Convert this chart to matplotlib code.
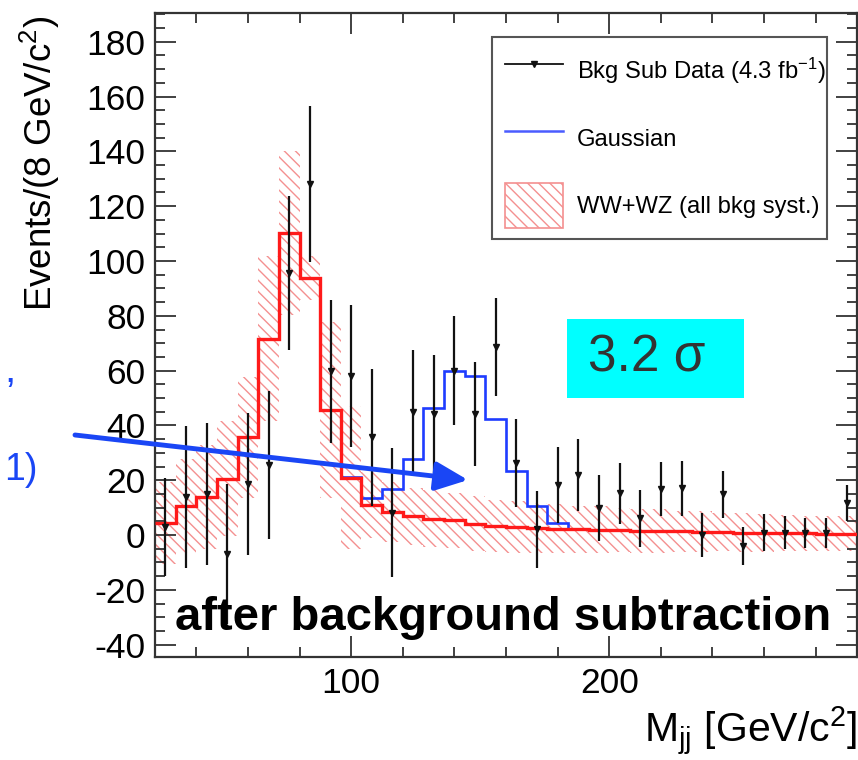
import numpy as np
import matplotlib
matplotlib.use("Agg")
import matplotlib.pyplot as plt
from matplotlib.lines import Line2D
from matplotlib.patches import Patch, Rectangle
from matplotlib.ticker import MultipleLocator

plt.rcParams['font.family'] = ['Liberation Sans', 'DejaVu Sans']
plt.rcParams['mathtext.fontset'] = 'custom'
plt.rcParams['mathtext.rm'] = 'Liberation Sans'
plt.rcParams['mathtext.it'] = 'Liberation Sans:italic'
plt.rcParams['mathtext.bf'] = 'Liberation Sans:bold'
plt.rcParams['axes.unicode_minus'] = False
plt.rcParams['hatch.linewidth'] = 1.0

# binning: 8 GeV/c^2 bins from 24 to 296
bin_lo = 24
bin_w = 8
n_bins = 34

# WW+WZ background (red histogram) per bin
bkg = [4.5, 10.6, 14.0, 20.6, 35.7, 71.7, 110.3, 93.9, 45.7, 21.0,
       11.0, 8.3, 6.8, 6.0, 5.4, 4.2, 3.2, 2.8, 2.6, 2.3,
       2.1, 2.0, 1.8, 1.6, 1.4, 1.3, 1.2, 1.0, 0.9, 0.8,
       0.7, 0.6, 0.5, 0.5]
# background systematic (half width of hatched band)
bkg_err = [15, 17, 19, 21, 22, 30, 30, 8, 32, 26,
           12, 11, 10.5, 10.5, 10, 10, 9.5, 9.5, 9, 9,
           8.5, 8.5, 8, 8, 8, 7.5, 7.5, 7, 7, 7,
           6.5, 6.5, 6.5, 6.5]

# Gaussian component, bins 10..21 (96-192 GeV/c^2)
gauss_first_bin = 9
gauss = [0.3, 2.4, 8.4, 21.0, 40.3, 54.6, 54.0, 39.1, 20.7, 8.1, 2.0, 0.2]

# background-subtracted data
data = [3.0, 13.8, 15.0, -7.0, 18.6, 25.5, 95.7, 128.0, 59.7, 58.0,
        35.7, 8.2, 45.0, 44.2, 60.0, 44.2, 68.6, 26.2, 2.1, 18.3,
        21.9, 10.0, 15.2, 6.1, 16.8, 17.0, 0.0, 14.9, -3.9, 0.9,
        0.9, 0.6, 0.9, 11.6]
data_err = [18, 26, 26, 25.5, 26, 27, 28, 28.5, 26, 26,
            25, 23.5, 22.5, 21.5, 20, 19, 18, 16, 14, 14,
            13, 12, 11, 10.5, 10, 10, 8, 8.5, 7, 6.6,
            6, 5.5, 5.5, 6.5]

edges = bin_lo + bin_w * np.arange(n_bins + 1)
centers = edges[:-1] + bin_w / 2
bkg = np.array(bkg)
bkg_err = np.array(bkg_err)
g_sl = slice(gauss_first_bin, gauss_first_bin + len(gauss))
sig_tot = bkg[g_sl] + np.array(gauss)

red = '#ff1a1a'
blue = '#1e3cff'
hatch_c = '#f49090'
arrow_c = '#1a46f5'

W, H = 858, 760
fig = plt.figure(figsize=(W / 100, H / 100), dpi=100)
ax = fig.add_axes([155 / W, 103 / H, 702 / W, 644 / H])

ax.bar(edges[:-1], 2 * bkg_err, bottom=bkg - bkg_err, width=bin_w, align='edge',
       fill=False, hatch='\\\\\\', edgecolor=hatch_c, linewidth=0, zorder=1)
ax.stairs(bkg, edges, baseline=None, color=red, lw=2.4, zorder=3)
ax.stairs(sig_tot, edges[gauss_first_bin:gauss_first_bin + len(gauss) + 1],
          baseline=None, color=blue, lw=1.9, zorder=2)
ax.errorbar(centers, data, yerr=data_err, fmt='v', color='#111111', ms=4.5,
            elinewidth=1.6, capsize=0, zorder=4)

ax.set_xlim(24, 296)
ax.set_ylim(-44.5, 190.5)
ax.xaxis.set_major_locator(MultipleLocator(100))
ax.xaxis.set_minor_locator(MultipleLocator(20))
ax.yaxis.set_major_locator(MultipleLocator(20))
ax.yaxis.set_minor_locator(MultipleLocator(5))
ax.tick_params(which='both', direction='in', top=True, right=True,
               color='#333333', width=1.3, labelsize=25.5, pad=7)
ax.tick_params(which='major', length=15)
ax.tick_params(which='minor', length=7.5)
for s in ax.spines.values():
    s.set_linewidth(1.6)
    s.set_color('#333333')

fig.text(40 / W, 1 - 163 / H, r'Events/(8 GeV/c$^{2}$)', rotation=90,
         ha='center', va='center', fontsize=26.5)
fig.text(857 / W, 1 - 742 / H, r'M$_{\mathrm{jj}}$ [GeV/c$^{2}$]',
         ha='right', va='baseline', fontsize=29.5)

# legend: frame drawn separately so the padding matches
ax.add_patch(Rectangle((492 / W, 1 - 239 / H), 335 / W, 202 / H,
                       transform=fig.transFigure, facecolor='white',
                       edgecolor='#555555', lw=1.5, clip_on=False, zorder=4.5))
handles = [Line2D([], [], color='#111111', marker='v', ms=4, lw=1.3),
           Line2D([], [], color='#4a5cff', lw=1.8),
           Patch(facecolor='white', edgecolor=hatch_c, hatch='\\\\\\', lw=1.2)]
labels = [r'Bkg Sub Data (4.3 fb$^{-1}$)', 'Gaussian', 'WW+WZ (all bkg syst.)']
leg = ax.legend(handles, labels, loc='upper left',
                bbox_to_anchor=(505 / W, 1 - 49 / H), bbox_transform=fig.transFigure,
                fontsize=17.1, handlelength=2.45, handleheight=2.55, handletextpad=0.58,
                labelspacing=0.92, borderpad=0, borderaxespad=0, frameon=False)
leg.set_zorder(5)

# significance box
fig.add_artist(Rectangle((567 / W, 1 - 398 / H), 177 / W, 79 / H,
                         transform=fig.transFigure, facecolor='#00ffff',
                         edgecolor='none', zorder=5))
fig.text(588 / W, 1 - 358 / H, '3.2 σ', ha='left', va='center', fontsize=37,
         color='#333333', zorder=6)

fig.text(175 / W, 1 - 630 / H, 'after background subtraction', ha='left',
         va='baseline', fontsize=34, fontweight='bold', zorder=6)

# arrow and leftover text from the slide
ax.annotate('', xy=(468, H - 480), xycoords='figure pixels',
            xytext=(75, H - 435), textcoords='figure pixels',
            arrowprops=dict(arrowstyle='-|>,head_length=0.9,head_width=0.4',
                            color=arrow_c, lw=3.5, mutation_scale=22,
                            shrinkA=0, shrinkB=0),
            annotation_clip=False, zorder=7)
fig.text(4 / W, 1 - 382 / H, ',', color=arrow_c, fontsize=29, va='baseline')
fig.text(4 / W, 1 - 480 / H, '1)', color=arrow_c, fontsize=27, va='baseline')

fig.savefig('out.png', dpi=100)
